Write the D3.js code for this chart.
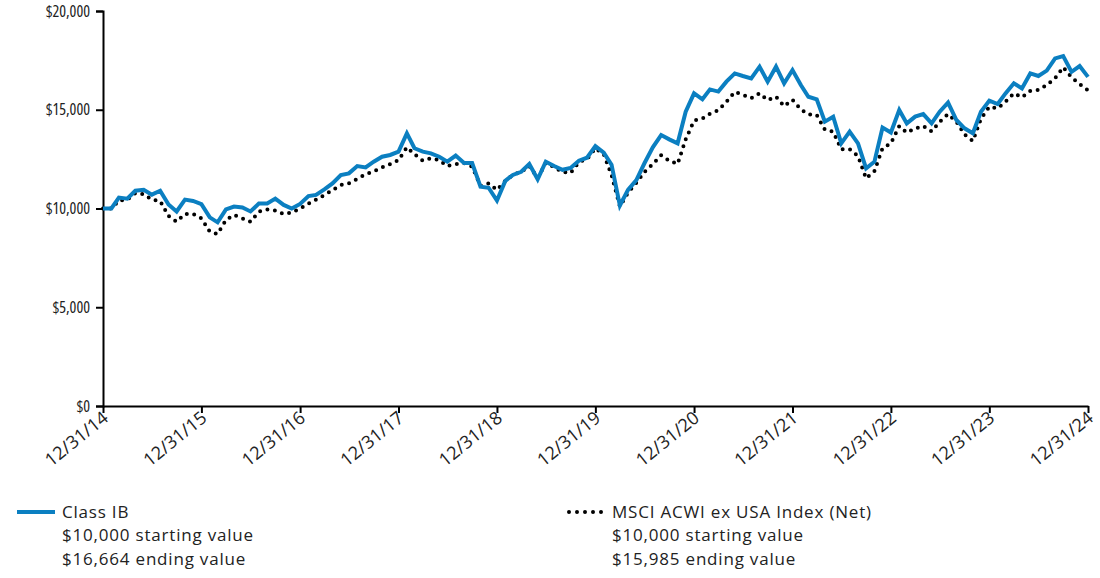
<!DOCTYPE html>
<html>
<head>
<meta charset="utf-8">
<script src="https://cdn.jsdelivr.net/npm/d3@7"></script>
<style>
  html, body { margin: 0; padding: 0; background: #fff; }
  svg { display: block; font-family: "Open Sans", sans-serif; }
</style>
</head>
<body>
<svg id="chart" width="1100" height="578"></svg>
<script>
// ---- data ----
const startDate = "2014-12-31";
const classIB = [
  10000,10000,10550,10500,10900,10950,10700,10900,10200,9850,10450,10380,
  10220,9550,9300,9950,10100,10050,9850,10250,10250,10500,10180,10000,
  10230,10630,10690,10970,11270,11690,11780,12150,12080,12370,12620,12710,
  12880,13800,13050,12880,12790,12620,12370,12680,12300,12300,11100,11050,
  10400,11400,11700,11860,12250,11480,12370,12150,11960,12050,12420,12570,
  13160,12830,12220,10150,10940,11440,12290,13100,13720,13500,13300,14900,
  15830,15530,16030,15920,16420,16840,16710,16590,17180,16420,17180,16340,
  17010,16250,15660,15530,14400,14650,13300,13890,13300,12030,12370,14100,
  13850,14990,14310,14650,14780,14310,14900,15360,14480,14060,13810,14900,
  15460,15290,15830,16340,16080,16840,16710,16980,17600,17720,16920,17210,
  16664
];
const msciACWI = [
  10000,10000,10400,10450,10780,10720,10450,10380,9620,9330,9720,9720,
  9500,8830,8710,9420,9670,9500,9330,9840,9950,9900,9720,9800,
  10000,10250,10450,10680,10930,11190,11280,11500,11730,11870,12080,12240,
  12450,13100,12750,12420,12540,12450,12150,12240,12290,12120,11150,11270,
  10940,11400,11700,11860,12150,11550,12300,12100,11850,11800,12350,12500,
  13050,12750,11700,10100,10800,11300,11850,12250,12700,12420,12250,13500,
  14450,14560,14800,14980,15400,15900,15760,15580,15830,15480,15660,15180,
  15500,15020,14770,14730,14000,13890,13000,13000,12650,11530,11900,13050,
  13300,14170,13840,14050,14180,13900,14390,14780,14400,13750,13420,14550,
  15150,15070,15400,15830,15630,15960,16000,16250,16600,17150,16640,16300,
  15985
];
const xTickLabels = ["12/31/14","12/31/15","12/31/16","12/31/17","12/31/18","12/31/19","12/31/20","12/31/21","12/31/22","12/31/23","12/31/24"];
const yTicks = [0, 5000, 10000, 15000, 20000];
const legendItems = [
  { name: "Class IB", start: "$10,000 starting value", end: "$16,664 ending value", style: "solid" },
  { name: "MSCI ACWI ex USA Index (Net)", start: "$10,000 starting value", end: "$15,985 ending value", style: "dotted" }
];

// ---- layout ----
const margin = { left: 103, right: 12, top: 11, bottom: 172 };
const W = 1100, H = 578;
const svg = d3.select("#chart");
const BLUE = "#0b7fc1";

const parse = d3.timeParse("%Y-%m-%d");
const d0 = parse(startDate);
const dates = classIB.map((_, i) => d3.timeDay.offset(d3.timeMonth.offset(d3.timeMonth.floor(d3.timeDay.offset(d0, 1)), i), -1));

const x = d3.scaleTime()
  .domain([dates[0], dates[dates.length - 1]])
  .range([margin.left, W - margin.right]);
const y = d3.scaleLinear().domain([0, 20000]).range([H - margin.bottom, margin.top]);

const tickDates = xTickLabels.map((_, i) => dates[i * 12]);

// y axis
const yAxis = d3.axisLeft(y).tickValues(yTicks).tickSize(7).tickPadding(6)
  .tickFormat(d => "$" + d3.format(",")(d));
const gy = svg.append("g").attr("transform", `translate(${margin.left},0)`).call(yAxis);
gy.select(".domain").attr("stroke", "#000").attr("stroke-width", 2);
gy.selectAll(".tick line").attr("stroke", "#000").attr("stroke-width", 2);
gy.selectAll("text").attr("font-size", 16).attr("fill", "#222").attr("font-family", "Open Sans")
  .style("font-stretch", "75%");

// x axis
const xAxis = d3.axisBottom(x).tickValues(tickDates).tickSize(7).tickSizeOuter(0)
  .tickFormat((d, i) => xTickLabels[i]);
const gx = svg.append("g").attr("transform", `translate(0,${y(0)})`).call(xAxis);
gx.select(".domain").attr("stroke", "#000").attr("stroke-width", 2);
gx.selectAll(".tick line").attr("stroke", "#000").attr("stroke-width", 2);
gx.selectAll("text")
  .attr("font-size", 18).attr("fill", "#222").attr("font-family", "Open Sans")
  .attr("text-anchor", "end")
  .attr("dy", null).attr("y", 0)
  .attr("transform", "translate(6,14) rotate(-39)");

// lines
const line = d3.line().x((d, i) => x(dates[i])).y(d => y(d));
svg.append("path").datum(msciACWI)
  .attr("fill", "none").attr("stroke", "#000").attr("stroke-width", 4)
  .attr("stroke-linecap", "round").attr("stroke-dasharray", "0 7.5")
  .attr("d", line);
svg.append("path").datum(classIB)
  .attr("fill", "none").attr("stroke", BLUE).attr("stroke-width", 4)
  .attr("stroke-linejoin", "miter")
  .attr("d", line);

// legend
const legendX = [17, 567];
const legend = svg.append("g");
legendItems.forEach((it, i) => {
  const g = legend.append("g").attr("transform", `translate(${legendX[i]},0)`);
  const ly = 512;
  const ln = g.append("line").attr("x1", 0).attr("x2", 38).attr("y1", ly).attr("y2", ly);
  if (it.style === "solid") ln.attr("stroke", BLUE).attr("stroke-width", 4);
  else ln.attr("x1", 2).attr("x2", 40).attr("stroke", "#000").attr("stroke-width", 4).attr("stroke-linecap", "round").attr("stroke-dasharray", "0 8");
  [it.name, it.start, it.end].forEach((t, j) => {
    g.append("text").attr("x", 45).attr("y", ly + 6 + j * 23.3)
      .attr("font-size", 17).attr("fill", "#222").attr("font-family", "Open Sans")
      .style("letter-spacing", "0.8px")
      .text(t);
  });
});
</script>
</body>
</html>
